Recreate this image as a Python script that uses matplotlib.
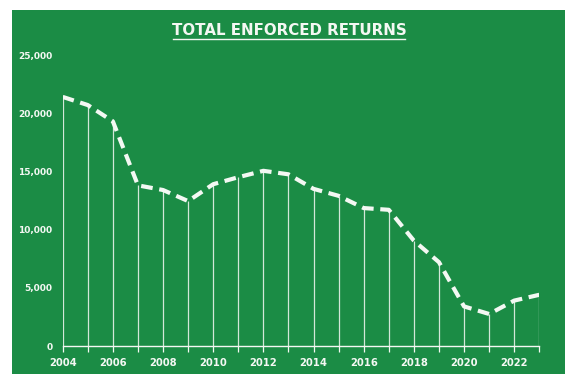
import matplotlib.pyplot as plt
import matplotlib.lines as mlines
import matplotlib.patches as mpatches
import numpy as np

# data
years = list(range(2004, 2024))
returns = [21400, 20700, 19300, 13800, 13400, 12450, 13900, 14500, 15050, 14750,
           13500, 12900, 11850, 11700, 9050, 7200, 3400, 2750, 3900, 4400]
yticks = [0, 5000, 10000, 15000, 20000, 25000]
xticks = list(range(2004, 2024, 2))

GREEN = '#1b8c45'
WHITE = '#f4f8f3'

plt.rcParams['font.family'] = ['DejaVu Sans']

fig = plt.figure(figsize=(5.76, 3.83), dpi=100)
fig.patch.set_facecolor('white')

# green panel
fig.patches.append(mpatches.Rectangle((12/576, 1 - 374/383), (565-12)/576, (374-10)/383,
                                      transform=fig.transFigure, facecolor=GREEN,
                                      edgecolor='none', zorder=-5))

ax = fig.add_axes([62.7/576, 1 - 346/383, (539.3-62.7)/576, (346-55)/383])
ax.set_facecolor('none')

ax.vlines(years, 0, returns, color=WHITE, lw=0.9, alpha=0.85, zorder=2)
ax.plot(years, returns, color=WHITE, lw=3, linestyle=(0, (2.8, 1.6)),
        solid_capstyle='round', dash_capstyle='butt', zorder=3)
ax.plot([years[0], years[-1]], [0, 0], color=WHITE, lw=1, zorder=2, clip_on=False)

ax.set_xlim(years[0], years[-1])
ax.set_ylim(0, 25000)
for s in ax.spines.values():
    s.set_visible(False)

ax.set_xticks(years, minor=True)
ax.set_xticks(xticks)
ax.set_xticklabels([str(x) for x in xticks])
ax.tick_params(axis='x', which='both', direction='out', length=4, width=0.9,
               color=WHITE, pad=5)
ax.tick_params(axis='x', which='major', labelsize=7.2, labelcolor=WHITE)
ax.set_yticks(yticks)
ax.set_yticklabels(['{:,}'.format(v) for v in yticks])
ax.tick_params(axis='y', length=0, pad=7.5, labelsize=6.5, labelcolor=WHITE)
for lab in ax.get_xticklabels() + ax.get_yticklabels():
    lab.set_fontweight('bold')

# underlined title
fig.text(289/576, 1 - 30.5/383, 'TOTAL ENFORCED RETURNS', ha='center', va='center',
         color=WHITE, fontsize=10.8, fontweight='bold')
fig.add_artist(mlines.Line2D([173/576, 405/576], [1 - 38.5/383, 1 - 38.5/383],
                             transform=fig.transFigure, color=WHITE, lw=1))

fig.savefig('out.png', dpi=100, facecolor='white')
